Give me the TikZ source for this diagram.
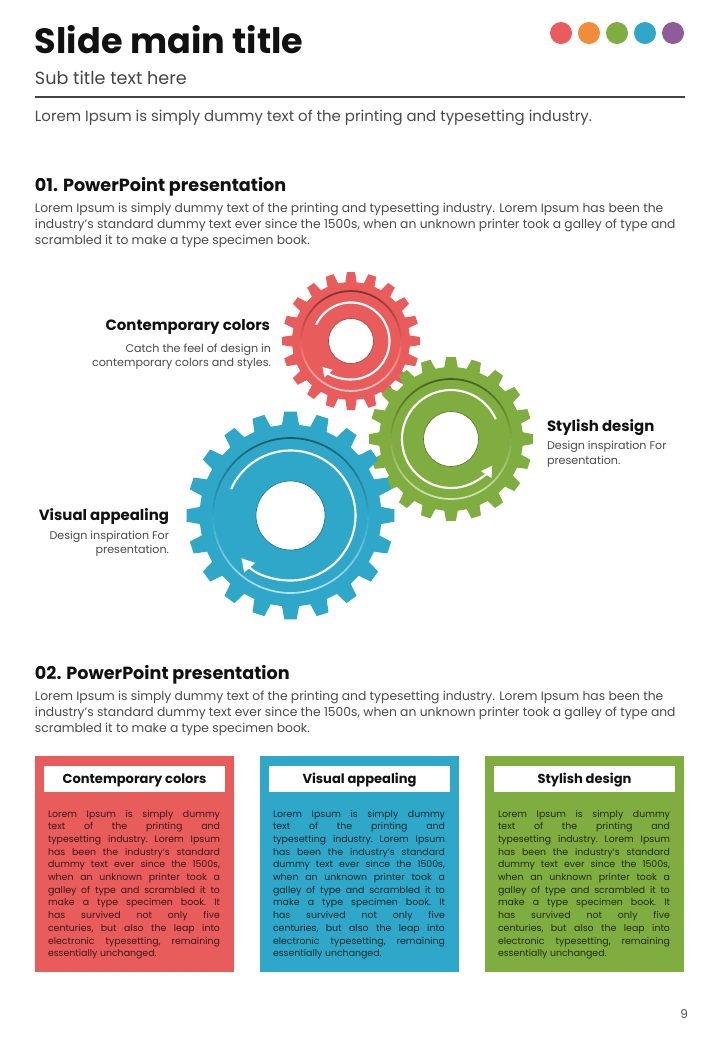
\documentclass[tikz,border=0pt]{standalone}
\usepackage{fontspec}
\setmainfont{Poppins}
\usetikzlibrary{arrows.meta}
\definecolor{cred}{HTML}{E95C5C}
\definecolor{corange}{HTML}{F28B3A}
\definecolor{cgreen}{HTML}{80AD40}
\definecolor{cblue}{HTML}{2FA7C8}
\definecolor{cpurple}{HTML}{8E5C98}
\definecolor{bodygray}{HTML}{4A4A4A}
\definecolor{titleblack}{HTML}{111111}
\definecolor{rulegray}{HTML}{444444}

% #1 cx, #2 cy, #3 tip radius, #4 root radius, #5 teeth, #6 colour, #7 hole radius, #8 ring radius
\newcommand{\gearshape}[8]{%
 \begin{scope}[shift={(#1,#2)}, y=0.75pt]
  \pgfmathsetmacro{\gpitch}{360/#5}
  \fill[#6] ({-0.5*\gpitch}:#4)
   \foreach \i [evaluate=\i as \gc using (\i-1)*\gpitch] in {1,...,#5}{
     -- ({\gc-0.30*\gpitch}:#4) -- ({\gc-0.19*\gpitch}:#3) -- ({\gc+0.19*\gpitch}:#3) -- ({\gc+0.30*\gpitch}:#4)
   } -- cycle;
  \foreach \a in {0,6,...,354}{%
    \pgfmathsetmacro{\gs}{sin(\a+3)}%
    \ifdim \gs pt<0pt
      \pgfmathtruncatemacro{\gpc}{100+65*\gs}%
      \colorlet{ringc}{#6!\gpc!white}%
    \else
      \pgfmathtruncatemacro{\gpc}{100-45*\gs}%
      \colorlet{ringc}{#6!\gpc!black}%
    \fi
    \draw[ringc, line width=1.3pt] (\a:#8) arc[start angle=\a, end angle=\a+6.4, radius=#8];
  }
  \fill[white] (0,0) circle[radius=#7];
  \draw[#6!70!black, line width=0.5pt] (0,0) circle[radius=#7];
 \end{scope}}

\tikzset{
  base/.style={inner sep=0pt, outer sep=0pt},
  titletxt/.style={base, anchor=base west, text=titleblack, font=\bfseries\fontsize{26.3}{30}\selectfont},
  subtxt/.style={base, anchor=base west, text=rulegray, font=\fontsize{13.2}{15}\selectfont},
  leadtxt/.style={base, anchor=base west, text=bodygray, font=\fontsize{11.2}{13}\selectfont},
  headtxt/.style={base, anchor=base west, text=titleblack, font=\bfseries\fontsize{13.2}{15}\selectfont},
  paratxt/.style={base, anchor=base west, text=bodygray, font=\fontsize{9.25}{11}\selectfont},
  gearlabel/.style={base, text=titleblack, font=\bfseries\fontsize{11.2}{13}\selectfont},
  geardesc/.style={base, text=bodygray, font=\fontsize{8.35}{10}\selectfont},
  boxlabel/.style={base, anchor=base, text=titleblack, font=\bfseries\fontsize{9.8}{11}\selectfont},
  boxtxt/.style={base, anchor=base west, text=black, text opacity=0.75, font=\frenchspacing\fontsize{7.05}{8}\selectfont},
  dot/.style={circle, inner sep=0pt, minimum size=16.5pt},
  flow/.style={white, line width=1.6pt},
}

\newcommand{\cardbox}[4]{% #1 left, #2 colour, #3 label, #4 name
  \fill[#2] (#1,756) rectangle ({#1+199},972);
  \fill[white] ({#1+9},766) rectangle ({#1+190},792);
  \node[boxlabel] (#4-lab) at ({#1+99.5},783) {#3};
  \foreach \t [count=\k] in {{Lorem Ipsum is simply dummy},{text of the printing and},{typesetting industry. Lorem Ipsum},{has been the industry’s standard},{dummy text ever since the 1500s,},{when an unknown printer took a},{galley of type and scrambled it to},{make a type specimen book. It},{has survived not only five},{centuries, but also the leap into},{electronic typesetting, remaining},{essentially unchanged.}}{
    \node[boxtxt] (#4-l\k) at ({#1+13},{817+(\k-1)*12.7}) {\ifnum\k<12 \makebox[129pt][s]{\t}\else\t\fi};
  }
}

\begin{document}
\begin{tikzpicture}[x=0.75pt,y=-0.75pt]
\useasboundingbox (0,0) rectangle (720,1040);
\fill[white] (0,0) rectangle (720,1040);

% header
\node[titletxt] (title) at (35,53) {Slide main title};
\node[dot, fill=cred] (d1) at (561,33) {};
\node[dot, fill=corange] (d2) at (589,33) {};
\node[dot, fill=cgreen] (d3) at (617,33) {};
\node[dot, fill=cblue] (d4) at (645,33) {};
\node[dot, fill=cpurple] (d5) at (673,33) {};
\node[subtxt] (sub) at (35,84) {Sub title text here};
\draw[rulegray, line width=0.8pt] (35,97) -- (685,97);
\node[leadtxt] (lead) at (35,121) {Lorem Ipsum is simply dummy text of the printing and typesetting industry.};

% section 01
\node[headtxt] (h1) at (35,191) {01. PowerPoint presentation};
\node[paratxt] (p1a) at (35,212) {Lorem Ipsum is simply dummy text of the printing and typesetting industry. Lorem Ipsum has been the};
\node[paratxt] (p1b) at (35,228) {industry’s standard dummy text ever since the 1500s, when an unknown printer took a galley of type and};
\node[paratxt] (p1c) at (35,244) {scrambled it to make a type specimen book.};

% gears
\gearshape{351}{341}{69}{59}{20}{cred}{22.5}{50}
\begin{scope}[shift={(351,341)}, y=0.75pt]
  \draw[flow, -{Triangle[length=7pt,width=8pt]}] (155:38.5) arc[start angle=155, end angle=-138, radius=38.5];
\end{scope}
\gearshape{451}{439}{82}{72}{20}{cgreen}{27.5}{60}
\begin{scope}[shift={(451,439)}, y=0.75pt]
  \draw[flow, -{Triangle[length=8pt,width=9pt]}] (24:49) arc[start angle=24, end angle=327, radius=49];
\end{scope}
\gearshape{290.5}{515.5}{104}{91}{20}{cblue}{34.5}{77.5}
\begin{scope}[shift={(290.5,515.5)}, y=0.75pt]
  \draw[flow, -{Triangle[length=9.5pt,width=10.5pt]}] (156:65) arc[start angle=156, end angle=-139, radius=65];
\end{scope}

\node[gearlabel, anchor=base east] (g1t) at (270,330) {Contemporary colors};
\node[geardesc, anchor=base east] (g1a) at (271,352) {Catch the feel of design in};
\node[geardesc, anchor=base east] (g1b) at (271,366) {contemporary colors and styles.};
\node[gearlabel, anchor=base west] (g2t) at (547,431) {Stylish design};
\node[geardesc, anchor=base west] (g2a) at (547,449) {Design inspiration For};
\node[geardesc, anchor=base west] (g2b) at (547,464) {presentation.};
\node[gearlabel, anchor=base east] (g3t) at (169,520) {Visual appealing};
\node[geardesc, anchor=base east] (g3a) at (169,539) {Design inspiration For};
\node[geardesc, anchor=base east] (g3b) at (169,553) {presentation.};

% section 02
\node[headtxt] (h2) at (35,679) {02. PowerPoint presentation};
\node[paratxt] (p2a) at (35,700) {Lorem Ipsum is simply dummy text of the printing and typesetting industry. Lorem Ipsum has been the};
\node[paratxt] (p2b) at (35,716) {industry’s standard dummy text ever since the 1500s, when an unknown printer took a galley of type and};
\node[paratxt] (p2c) at (35,732) {scrambled it to make a type specimen book.};

\cardbox{35}{cred}{Contemporary colors}{c1}
\cardbox{260}{cblue}{Visual appealing}{c2}
\cardbox{485}{cgreen}{Stylish design}{c3}

\node[base, anchor=base east, text=bodygray, font=\fontsize{9}{11}\selectfont] (pnum) at (688,1018) {9};
\end{tikzpicture}
\end{document}
